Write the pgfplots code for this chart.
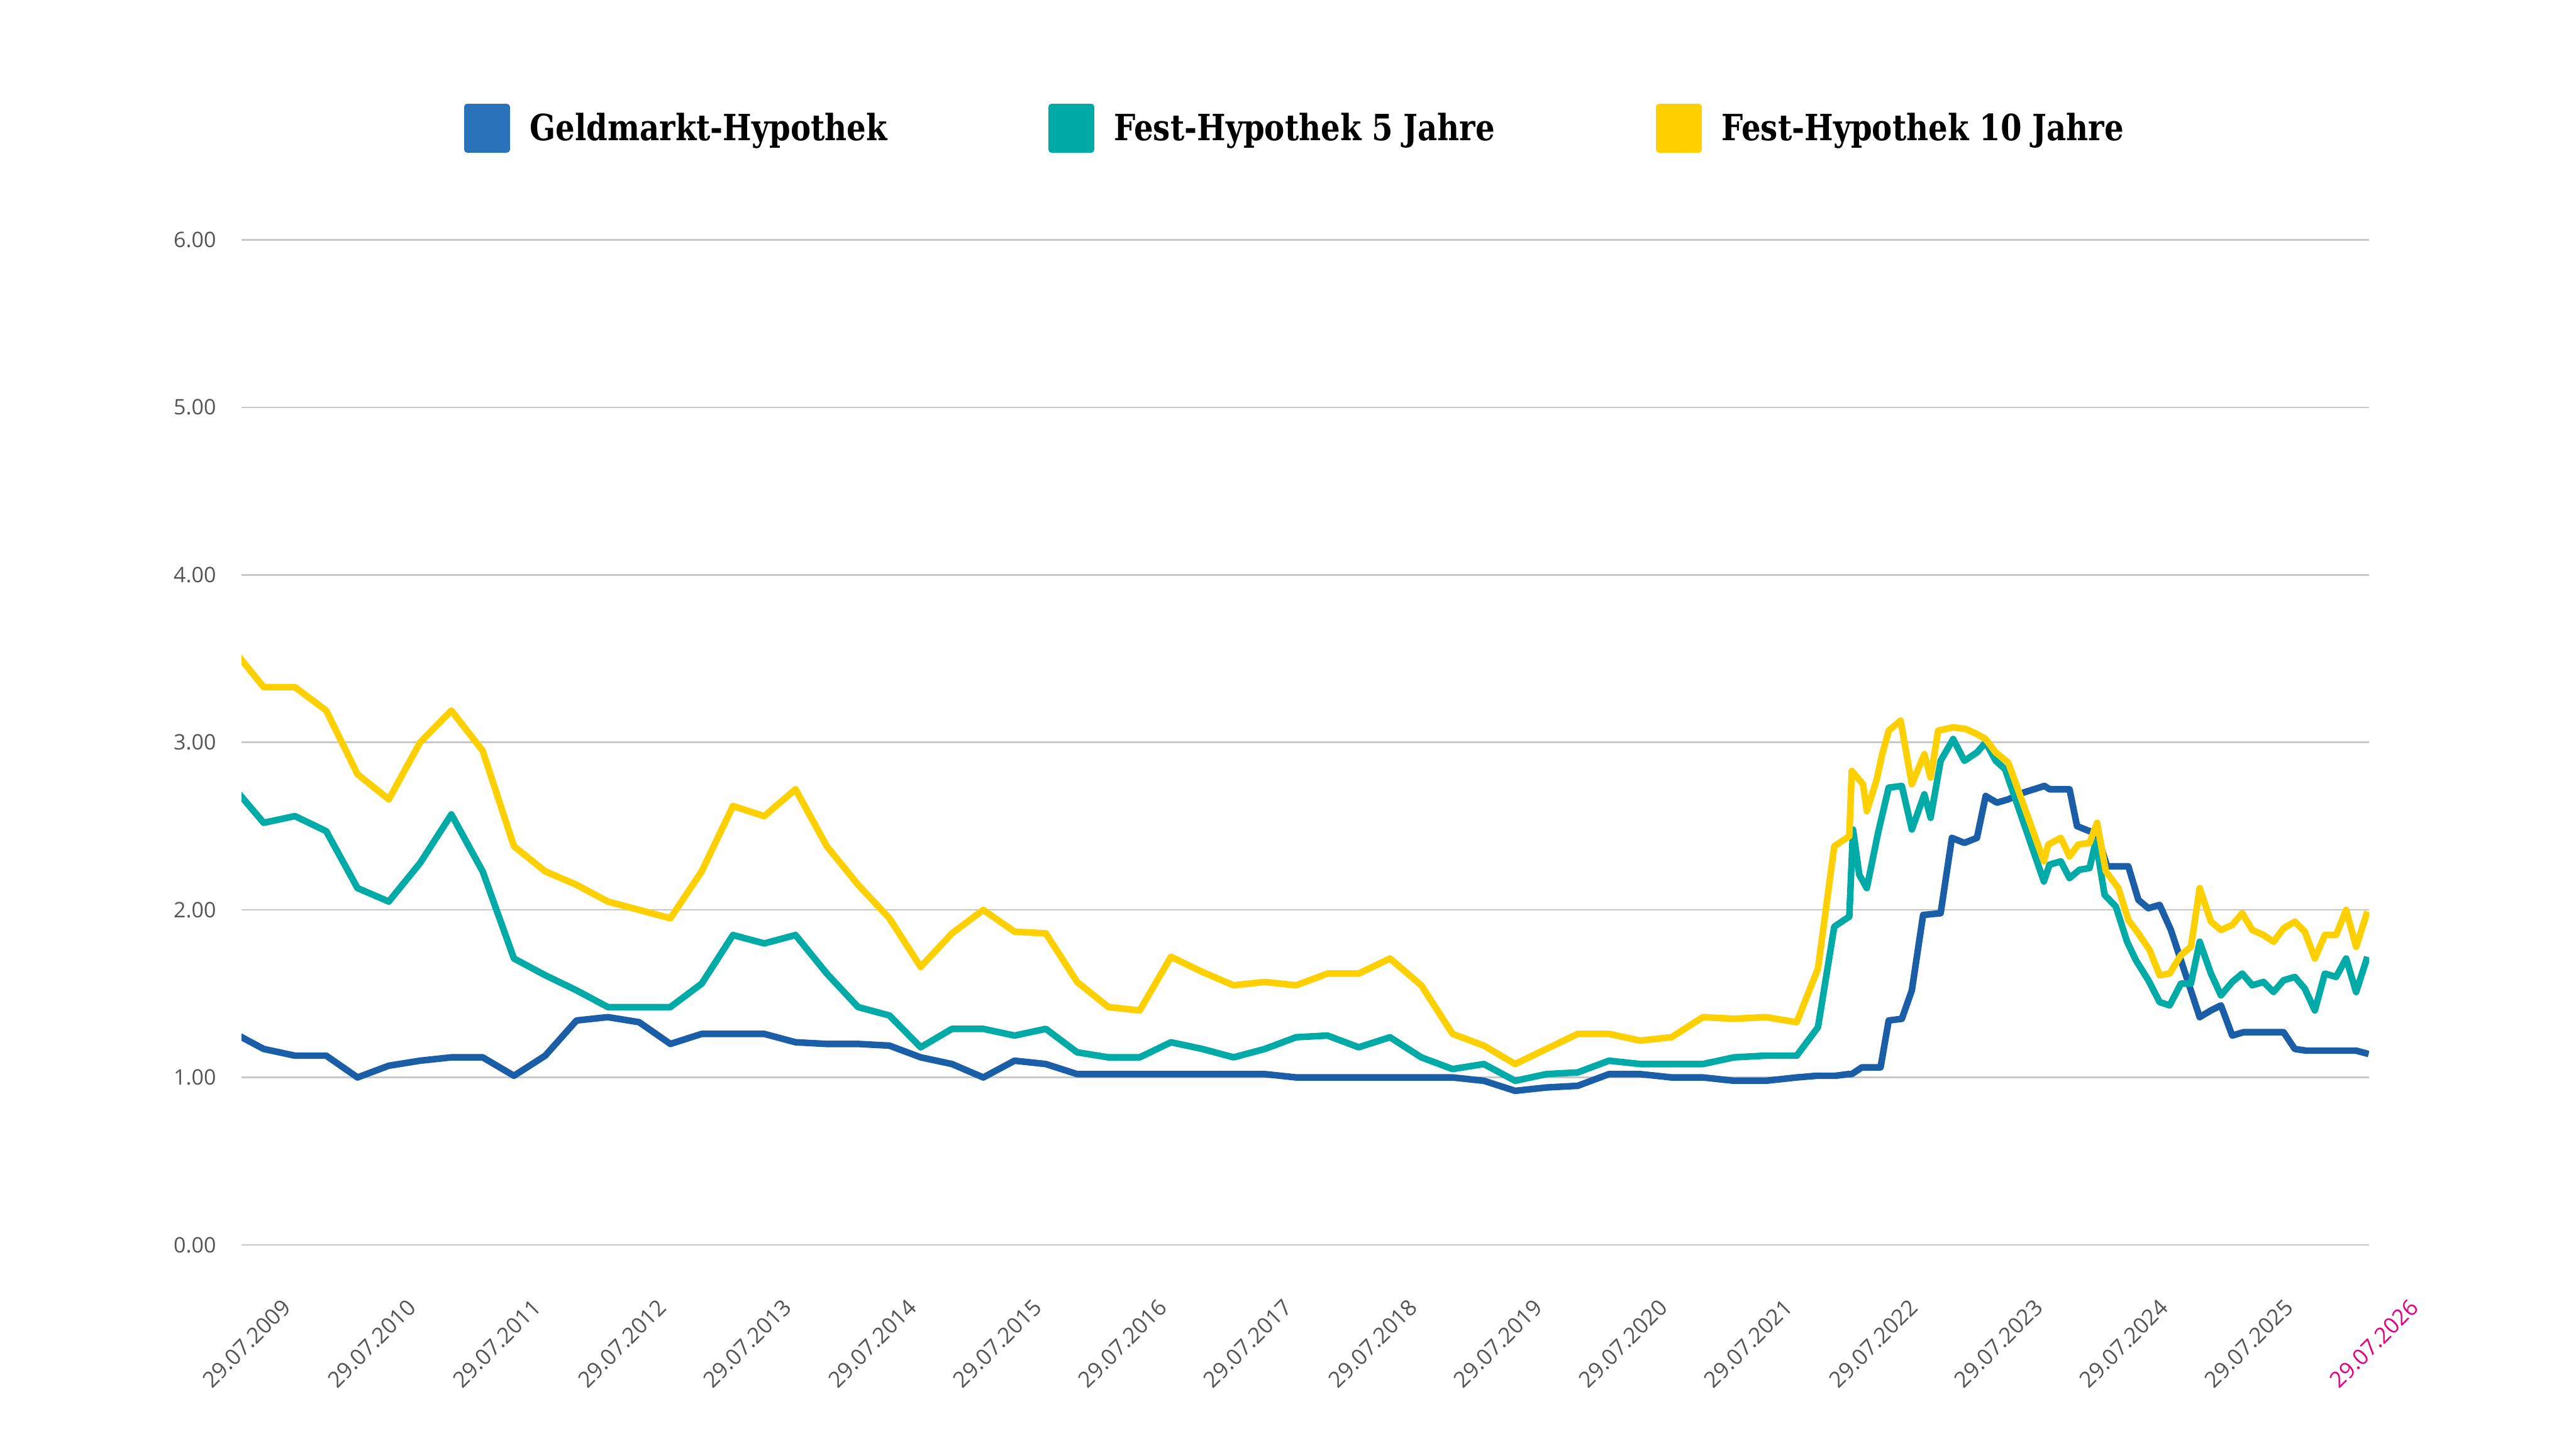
\documentclass[border=0pt]{standalone}
\usepackage{fontspec}
\setmainfont{Open Sans}
\newfontfamily\legendfont[FakeStretch=0.84]{DejaVu Serif}
\usepackage{pgfplots}
\usepackage{pgfplotstable}
\pgfplotsset{compat=1.18}
\definecolor{lineblue}{HTML}{1B5EA8}
\definecolor{legblue}{HTML}{2A73BA}
\definecolor{tealc}{HTML}{00AAA6}
\definecolor{yellc}{HTML}{FFD000}
\definecolor{gridgray}{HTML}{C8C8C8}
\definecolor{tickgray}{HTML}{555555}
\definecolor{magentac}{HTML}{E5007E}

\pgfplotstableread{
x y
2009.5 1.27
2009.75 1.17
2010.0 1.13
2010.25 1.13
2010.5 1.00
2010.75 1.07
2011.0 1.10
2011.25 1.12
2011.5 1.12
2011.75 1.01
2012.0 1.13
2012.25 1.34
2012.5 1.36
2012.75 1.33
2013.0 1.20
2013.25 1.26
2013.5 1.26
2013.75 1.26
2014.0 1.21
2014.25 1.20
2014.5 1.20
2014.75 1.19
2015.0 1.12
2015.25 1.08
2015.5 1.00
2015.75 1.10
2016.0 1.08
2016.25 1.02
2016.5 1.02
2016.75 1.02
2017.0 1.02
2017.25 1.02
2017.5 1.02
2017.75 1.02
2018.0 1.00
2018.25 1.00
2018.5 1.00
2018.75 1.00
2019.0 1.00
2019.25 1.00
2019.5 0.98
2019.75 0.92
2020.0 0.94
2020.25 0.95
2020.5 1.02
2020.75 1.02
2021.0 1.00
2021.25 1.00
2021.5 0.98
2021.75 0.98
2022.0 1.00
2022.16 1.01
2022.31 1.01
2022.41 1.02
2022.44 1.02
2022.52 1.06
2022.67 1.06
2022.735 1.34
2022.84 1.35
2022.92 1.52
2023.01 1.97
2023.15 1.98
2023.24 2.43
2023.34 2.40
2023.44 2.43
2023.51 2.68
2023.60 2.64
2023.69 2.66
2023.81 2.70
2023.98 2.74
2024.02 2.72
2024.18 2.72
2024.24 2.50
2024.34 2.47
2024.40 2.45
2024.48 2.26
2024.65 2.26
2024.73 2.06
2024.81 2.01
2024.90 2.03
2024.99 1.88
2025.22 1.36
2025.31 1.40
2025.39 1.43
2025.48 1.25
2025.57 1.27
2025.89 1.27
2025.98 1.17
2026.07 1.16
2026.47 1.16
2026.57 1.14
}\geldtable

\pgfplotstableread{
x y
2009.5 2.74
2009.75 2.52
2010.0 2.56
2010.25 2.47
2010.5 2.13
2010.75 2.05
2011.0 2.28
2011.25 2.57
2011.5 2.23
2011.75 1.71
2012.0 1.61
2012.25 1.52
2012.5 1.42
2012.75 1.42
2013.0 1.42
2013.25 1.56
2013.5 1.85
2013.75 1.80
2014.0 1.85
2014.25 1.62
2014.5 1.42
2014.75 1.37
2015.0 1.18
2015.25 1.29
2015.5 1.29
2015.75 1.25
2016.0 1.29
2016.25 1.15
2016.5 1.12
2016.75 1.12
2017.0 1.21
2017.25 1.17
2017.5 1.12
2017.75 1.17
2018.0 1.24
2018.25 1.25
2018.5 1.18
2018.75 1.24
2019.0 1.12
2019.25 1.05
2019.5 1.08
2019.75 0.98
2020.0 1.02
2020.25 1.03
2020.5 1.10
2020.75 1.08
2021.0 1.08
2021.25 1.08
2021.5 1.12
2021.75 1.13
2022.0 1.13
2022.17 1.30
2022.30 1.90
2022.42 1.96
2022.45 2.48
2022.50 2.21
2022.56 2.13
2022.65 2.46
2022.735 2.73
2022.84 2.74
2022.92 2.48
2023.02 2.69
2023.07 2.55
2023.15 2.89
2023.25 3.02
2023.34 2.89
2023.44 2.94
2023.51 3.00
2023.59 2.89
2023.665 2.84
2023.975 2.17
2024.02 2.27
2024.11 2.29
2024.18 2.19
2024.26 2.24
2024.34 2.25
2024.39 2.41
2024.46 2.09
2024.55 2.02
2024.64 1.81
2024.71 1.70
2024.81 1.58
2024.90 1.45
2024.98 1.43
2025.07 1.56
2025.15 1.56
2025.22 1.81
2025.31 1.62
2025.39 1.49
2025.48 1.57
2025.56 1.62
2025.64 1.55
2025.73 1.57
2025.81 1.51
2025.89 1.58
2025.98 1.60
2026.06 1.53
2026.14 1.40
2026.22 1.62
2026.31 1.60
2026.39 1.71
2026.47 1.51
2026.56 1.72
}\festfuenftable

\pgfplotstableread{
x y
2009.5 3.56
2009.75 3.33
2010.0 3.33
2010.25 3.19
2010.5 2.81
2010.75 2.66
2011.0 3.00
2011.25 3.19
2011.5 2.95
2011.75 2.38
2012.0 2.23
2012.25 2.15
2012.5 2.05
2012.75 2.00
2013.0 1.95
2013.25 2.23
2013.5 2.62
2013.75 2.56
2014.0 2.72
2014.25 2.38
2014.5 2.15
2014.75 1.95
2015.0 1.66
2015.25 1.86
2015.5 2.00
2015.75 1.87
2016.0 1.86
2016.25 1.57
2016.5 1.42
2016.75 1.40
2017.0 1.72
2017.25 1.63
2017.5 1.55
2017.75 1.57
2018.0 1.55
2018.25 1.62
2018.5 1.62
2018.75 1.71
2019.0 1.55
2019.25 1.26
2019.5 1.19
2019.75 1.08
2020.0 1.17
2020.25 1.26
2020.5 1.26
2020.75 1.22
2021.0 1.24
2021.25 1.36
2021.5 1.35
2021.75 1.36
2022.0 1.33
2022.17 1.65
2022.30 2.38
2022.42 2.44
2022.44 2.83
2022.53 2.75
2022.56 2.59
2022.64 2.78
2022.68 2.92
2022.735 3.07
2022.83 3.13
2022.92 2.75
2023.02 2.93
2023.07 2.79
2023.13 3.07
2023.25 3.09
2023.35 3.08
2023.44 3.05
2023.51 3.02
2023.59 2.94
2023.69 2.88
2023.975 2.29
2024.01 2.39
2024.11 2.43
2024.18 2.32
2024.25 2.39
2024.34 2.40
2024.40 2.52
2024.47 2.23
2024.57 2.13
2024.65 1.94
2024.73 1.86
2024.82 1.76
2024.90 1.61
2024.98 1.62
2025.07 1.73
2025.15 1.78
2025.22 2.13
2025.31 1.93
2025.39 1.88
2025.48 1.91
2025.56 1.98
2025.64 1.88
2025.73 1.85
2025.81 1.81
2025.89 1.89
2025.98 1.93
2026.06 1.87
2026.14 1.71
2026.22 1.85
2026.31 1.85
2026.39 2.00
2026.47 1.78
2026.56 1.99
}\festzehntable

\begin{document}
\begin{tikzpicture}
\useasboundingbox (0,0) rectangle (1568pt,881.6pt);
\begin{axis}[
  at={(147pt,123.6pt)}, anchor=south west,
  scale only axis, width=1295pt, height=612pt,
  xmin=2009.573, xmax=2026.573, ymin=0, ymax=6,
  axis line style={draw=none},
  major tick length=0pt,
  ytick={0,1,2,3,4,5,6},
  yticklabels={0.00,1.00,2.00,3.00,4.00,5.00,6.00},
  xtick={2009.573,2010.573,2011.573,2012.573,2013.573,2014.573,2015.573,2016.573,2017.573,2018.573,2019.573,2020.573,2021.573,2022.573,2023.573,2024.573,2025.573,2026.573},
  xticklabels={29.07.2009,29.07.2010,29.07.2011,29.07.2012,29.07.2013,29.07.2014,29.07.2015,29.07.2016,29.07.2017,29.07.2018,29.07.2019,29.07.2020,29.07.2021,29.07.2022,29.07.2023,29.07.2024,29.07.2025,\textcolor{magentac}{29.07.2026}},
  ymajorgrids,
  major grid style={line width=1pt, gridgray},
  yticklabel style={font=\fontsize{13}{15}\selectfont, text=tickgray, anchor=east, xshift=-12pt},
  xticklabel style={font=\fontsize{13.5}{15}\selectfont, text=tickgray, anchor=center, yshift=-60pt, xshift=3pt, rotate=45},
  legend columns=3,
  legend style={at={(0.4954,1.111)}, anchor=center, draw=none, fill=none,
    font=\legendfont\bfseries\fontsize{22}{26}\selectfont,
    /tikz/every odd column/.append style={column sep=10pt},
    /tikz/every even column/.append style={column sep=96pt}},
  legend cell align=left,
]
\addplot[lineblue, line width=4pt, line join=round,
  legend image code/.code={\fill[legblue] (0pt,-13pt) rectangle (24pt,13pt);}]
  table[x=x,y=y] {\geldtable};
\addlegendentry{Geldmarkt-Hypothek}
\addplot[tealc, line width=4pt, line join=round,
  legend image code/.code={\fill[tealc] (0pt,-13pt) rectangle (24pt,13pt);}]
  table[x=x,y=y] {\festfuenftable};
\addlegendentry{Fest-Hypothek 5 Jahre}
\addplot[yellc, line width=4pt, line join=round,
  legend image code/.code={\fill[yellc] (0pt,-13pt) rectangle (24pt,13pt);}]
  table[x=x,y=y] {\festzehntable};
\addlegendentry{Fest-Hypothek 10 Jahre}
\end{axis}
\end{tikzpicture}
\end{document}
